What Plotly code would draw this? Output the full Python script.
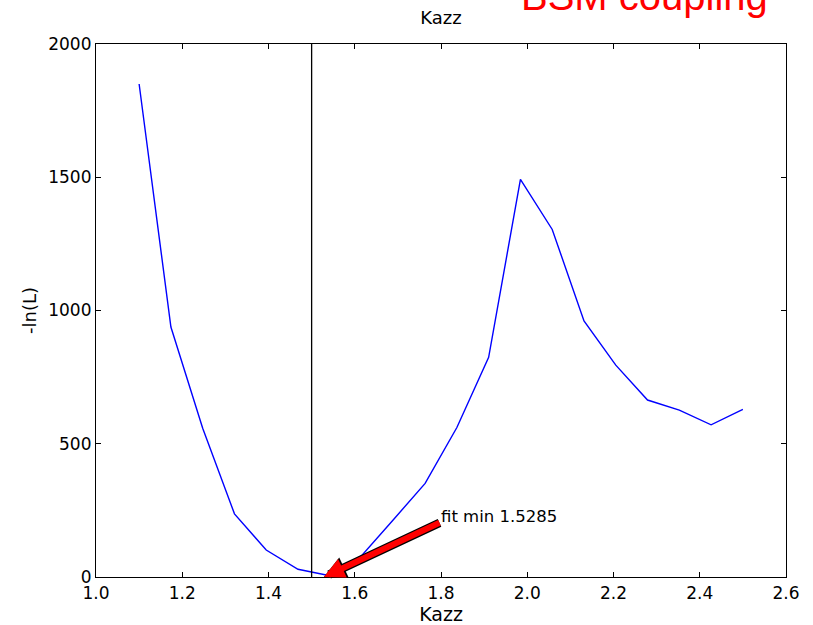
import plotly.graph_objects as go

# Data
kazz = [1.1, 1.1737, 1.2474, 1.3211, 1.3947, 1.4684, 1.5421, 1.6158, 1.6895, 1.7632,
        1.8368, 1.9105, 1.9842, 2.0579, 2.1316, 2.2053, 2.2789, 2.3526, 2.4263, 2.5]
neg_lnL = [1850, 938, 558, 237, 101, 29, 5, 80, 215, 351,
           561, 824, 1492, 1304, 961, 795, 664, 626, 571, 629]
vline_x = 1.5
fit_min = 1.5285
fit_text_x, fit_text_y = 1.8, 185
arrow_tail_x, arrow_tail_y = 1.8, 206
x_ticks = [1.0, 1.2, 1.4, 1.6, 1.8, 2.0, 2.2, 2.4, 2.6]
y_ticks = [0, 500, 1000, 1500, 2000]

FONT = "DejaVu Sans"

fig = go.Figure()
fig.add_trace(go.Scatter(x=kazz, y=neg_lnL, mode="lines",
                         line=dict(color="#0000ff", width=1.4), showlegend=False,
                         hoverinfo="skip"))
fig.add_vline(x=vline_x, line=dict(color="black", width=1.3))

# arrow: black outline underneath, red on top
for col, w, s in [("black", 8.5, 0.52), ("red", 6, 0.68)]:
    fig.add_annotation(x=fit_min, y=0, ax=arrow_tail_x, ay=arrow_tail_y,
                       xref="x", yref="y", axref="x", ayref="y", text="",
                       showarrow=True, arrowhead=2, arrowsize=s, arrowwidth=w,
                       arrowcolor=col, standoff=0)
fig.add_annotation(x=fit_text_x, y=fit_text_y, xref="x", yref="y",
                   text="fit min %.4f" % fit_min, showarrow=False,
                   xanchor="left", yanchor="bottom", xshift=-2,
                   font=dict(family=FONT, size=16.5, color="black"))

fig.add_annotation(x=0.613, y=1.045, xref="paper", yref="paper",
                   text="BSM coupling", showarrow=False, xanchor="left", yanchor="bottom",
                   font=dict(family="Liberation Sans, Arial", size=40, color="red"))

fig.update_layout(
    width=813, height=625,
    margin=dict(l=96, r=27, t=44, b=48, autoexpand=False),
    paper_bgcolor="white", plot_bgcolor="white",
    title=dict(text="Kazz", x=0.5, xref="paper", xanchor="center",
               y=1 - 18 / 625, yanchor="middle",
               font=dict(family=FONT, size=18, color="black")),
    font=dict(family=FONT, size=17, color="black"),
)
fig.update_xaxes(range=[1.0, 2.6], tickvals=x_ticks, ticktext=["%.1f" % v for v in x_ticks],
                 ticks="inside", ticklen=5, tickcolor="black", showline=True, linecolor="black",
                 linewidth=1.2, mirror="ticks", showgrid=False, zeroline=False, automargin=False,
                 title=dict(text="Kazz", font=dict(family=FONT, size=19), standoff=6),
                 tickfont=dict(family=FONT, size=17))
fig.update_yaxes(range=[0, 2000], tickvals=y_ticks, ticks="inside", ticklen=5, tickcolor="black",
                 showline=True, linecolor="black", linewidth=1.2, mirror="ticks",
                 showgrid=False, zeroline=False, automargin=False,
                 title=dict(text="-ln(L)", font=dict(family=FONT, size=18), standoff=6),
                 tickfont=dict(family=FONT, size=17))

fig.write_html("out.html", config={"displayModeBar": False},
               post_script="document.body.style.margin='0px';")
